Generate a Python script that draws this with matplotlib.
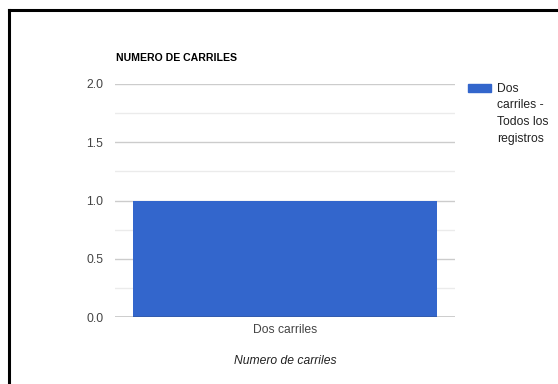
import numpy as np
import matplotlib
matplotlib.use("Agg")
import matplotlib.pyplot as plt
from matplotlib.lines import Line2D
from matplotlib.patches import Rectangle

categorias = ["Dos carriles"]
valores = [1.0]
serie = "Dos\ncarriles -\nTodos los\nregistros"
yticks = [0.0, 0.5, 1.0, 1.5, 2.0]

plt.rcParams['font.family'] = ['Liberation Sans', 'DejaVu Sans']

fig = plt.figure(figsize=(5.58, 3.84), dpi=100)
W, H = 558, 384
ax = fig.add_axes([115 / W, 1 - 317 / H, 340 / W, (317 - 84) / H])

x = np.arange(len(categorias))
ax.bar(x, valores, width=0.894, color="#3366cc", zorder=3)
ax.set_xlim(-0.5, 0.5)
ax.set_ylim(0, 2.0)

ax.set_yticks(yticks)
ax.set_yticklabels(["%.1f" % v for v in yticks])
ax.set_yticks([0.25, 0.75, 1.25, 1.75], minor=True)
ax.grid(axis="y", which="major", color="#cccccc", lw=1, zorder=0)
ax.grid(axis="y", which="minor", color="#ebebeb", lw=1, zorder=0)
ax.axhline(0, color="#333333", lw=1, zorder=4)

ax.set_xticks(x)
ax.set_xticklabels(categorias)
ax.tick_params(axis="both", which="both", length=0, labelsize=8.7, labelcolor="#444444")
ax.tick_params(axis="y", pad=8.5)
ax.tick_params(axis="x", pad=5)
for s in ax.spines.values():
    s.set_visible(False)

ax.set_xlabel("Numero de carriles", fontstyle="italic", fontsize=8.7,
              color="#222222", labelpad=14)
fig.text(116 / W, 1 - 58 / H, "NUMERO DE CARRILES", fontsize=7.6,
         fontweight="bold", color="#000000", va="center")

# leyenda
fig.add_artist(Rectangle((468 / W, 1 - 92 / H), 23 / W, 8 / H,
                         transform=fig.transFigure, color="#3366cc"))
fig.text(497 / W, 1 - 82.5 / H, serie, fontsize=8.7, color="#222222",
         va="top", ha="left", linespacing=1.52)

# borde negro arriba e izquierda
fig.add_artist(Line2D([9 / W, 1], [1 - 10 / H, 1 - 10 / H], color="black", lw=2.2))
fig.add_artist(Line2D([9 / W, 9 / W], [0, 1 - 10 / H], color="black", lw=2.2))

fig.savefig("out.png", dpi=100)
